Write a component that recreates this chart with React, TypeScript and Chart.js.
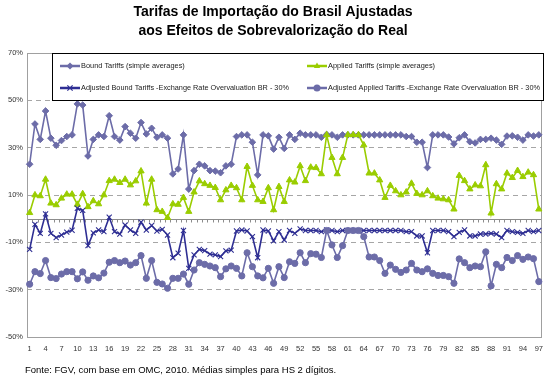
import React, { useEffect, useRef } from 'react';
import { Chart, registerables } from 'chart.js';

Chart.register(...registerables);

const titleLines = ['Tarifas de Importação do Brasil Ajustadas', 'aos Efeitos de Sobrevalorização do Real'];
const sourceNote = 'Fonte: FGV, com base em OMC, 2010. Médias simples para HS 2 dígitos.';

const categories = Array.from({ length: 97 }, (_, i) => String(i + 1));

const seriesNames = [
  'Bound Tariffs (simple averages)',
  'Applied Tariffs (simple averages)',
  'Adjusted Bound Tariffs -Exchange Rate Overvaluation BR - 30%',
  'Adjusted Applied Tariffs -Exchange Rate Overvaluation BR - 30%',
];

const boundTariffs = [
  23, 40, 33.5, 45.5, 34, 31, 33, 34.7, 35.4, 48.5,
  48, 26.5, 33.5, 35.4, 34.7, 43.5, 34.7, 33.2, 38.9, 36.1,
  34, 40.6, 35.8, 38.2, 34.4, 35.4, 34, 18.9, 21, 35.4,
  12.5, 20.3, 23, 22.3, 20.3, 20.1, 19.4, 22.3, 23, 34.7,
  35.4, 35.4, 32.3, 18.5, 35.4, 35, 29.4, 34.4, 29.7, 35.4,
  33.5, 36.1, 35.4, 35.4, 35.4, 34.4, 35.6, 35.4, 34.4, 35.4,
  35.4, 35.4, 35.4, 35.4, 35.4, 35.4, 35.4, 35.4, 35.4, 35.4,
  35.4, 34.7, 34.7, 32.3, 32.3, 21.6, 35.4, 35.4, 35.4, 34.5,
  31.6, 34.2, 35.4, 32.5, 32, 33.5, 33.5, 34, 33.2, 31.4,
  34.9, 35, 34.4, 33.2, 35.4, 34.9, 35.4,
];

const appliedTariffs = [
  2.5, 10, 9.6, 16.6, 6.5, 5.8, 8.6, 10.3, 10.3, 6,
  10.5, 5, 7.5, 6.2, 10, 16, 16.6, 15.2, 16.6, 14.2,
  15.9, 20.1, 6.5, 16.6, 3.7, 3, 0.4, 6.2, 6, 8.9,
  3, 11.2, 15.9, 14.7, 14, 13.1, 7.9, 12.1, 14, 13,
  7.9, 22, 14, 7.9, 7.2, 13, 3.7, 13.5, 7.2, 16.3,
  15.4, 22.3, 16, 21.7, 21.5, 18.9, 35.4, 25.8, 18.9, 25.8,
  35.4, 35.4, 35.4, 31.1, 19.2, 19.2, 16.3, 8.9, 14, 11.7,
  10, 11.2, 14.9, 10.6, 10, 11.7, 9.6, 8.6, 8.3, 7.9,
  4, 18.2, 16, 12.5, 14.2, 13.8, 22.7, 2.3, 14.7, 12.5,
  19.2, 17.3, 20.3, 17.7, 19.6, 18.5, 4,
];

const adjustedBound = [
  -13, -2.4, -6.2, 2, -6.2, -8, -6.9, -5.7, -4.9, 4.4,
  3.5, -11.4, -6, -4.8, -5.5, 0.6, -5.5, -6.5, -2.7, -4.8,
  -6.2, -1.5, -4.8, -2.9, -5.2, -4.5, -6.9, -16.5, -14.6, -5,
  -21, -15.3, -13, -13.5, -15, -15.3, -16, -13.6, -13.3, -5.2,
  -4.8, -5.2, -7.6, -16.5, -4.8, -5.2, -9.4, -5.5, -9, -5,
  -6.2, -4.3, -5, -5, -5, -5.5, -4.8, -5, -5.5, -5,
  -5, -5, -5, -5, -5, -5, -5, -5, -5, -5,
  -5, -5.5, -5.5, -7.3, -7.3, -14.4, -5, -5, -5, -5.5,
  -7.6, -5.8, -4.8, -7.3, -7.3, -6.5, -6.5, -6.2, -6.5, -8,
  -5, -5.5, -5.8, -6.2, -5, -5.5, -5,
];

const adjustedApplied = [
  -27.7, -22.4, -23.2, -17.7, -24.9, -25.3, -23.4, -22.4, -22.4, -25.4,
  -22.5, -26, -24.2, -25, -23, -18.4, -17.7, -18.6, -17.9, -19.6,
  -18.6, -15.6, -25.2, -17.7, -26.9, -27.6, -29.4, -25.2, -25.2, -23.4,
  -27.7, -21.7, -18.6, -19.3, -20, -20.7, -24.5, -21.2, -20, -21,
  -24.2, -14.4, -20.3, -24.2, -25, -21, -27.3, -20.3, -24.9, -18.2,
  -18.9, -14.4, -18.6, -14.8, -15, -16.4, -5, -11.1, -16.4, -11.4,
  -5, -5, -5, -7.6, -16.2, -16.2, -17.7, -23.1, -19.6, -21.4,
  -22.7, -21.7, -18.9, -21.7, -22.4, -21.2, -23.1, -24, -24, -24.5,
  -27.3, -17, -18.6, -20.7, -20, -20.3, -14, -28.4, -19.3, -20.7,
  -16.4, -17.7, -15.6, -17.2, -16.2, -16.9, -26.6,
];

const yMin = -50;
const yMax = 70;
const yStep = 20;

const COL_BOUND = '#6C6CA8';
const COL_APPLIED = '#9ACD00';
const COL_ADJ_BOUND = '#2E2E93';
const COL_ADJ_APPLIED = '#6C6CA8';
const FONT = '"Liberation Sans", Arial, sans-serif';

function drawMarker(ctx: CanvasRenderingContext2D, style: string, x: number, y: number, r: number, color: string) {
  ctx.save();
  ctx.fillStyle = color;
  ctx.strokeStyle = color;
  ctx.lineWidth = 1.2;
  ctx.beginPath();
  if (style === 'rectRot') {
    ctx.moveTo(x, y - r); ctx.lineTo(x + r, y); ctx.lineTo(x, y + r); ctx.lineTo(x - r, y); ctx.closePath(); ctx.fill();
  } else if (style === 'triangle') {
    ctx.moveTo(x, y - r); ctx.lineTo(x + r * 0.9, y + r * 0.6); ctx.lineTo(x - r * 0.9, y + r * 0.6); ctx.closePath(); ctx.fill();
  } else if (style === 'circle') {
    ctx.arc(x, y, r, 0, Math.PI * 2); ctx.fill();
  } else if (style === 'crossRot') {
    const d = r * 0.75;
    ctx.moveTo(x - d, y - d); ctx.lineTo(x + d, y + d); ctx.moveTo(x + d, y - d); ctx.lineTo(x - d, y + d); ctx.stroke();
  }
  ctx.restore();
}

const decorPlugin = {
  id: 'decor',
  beforeDatasetsDraw(chart: any) {
    const { ctx, chartArea } = chart;
    const y = chart.scales.y;
    const y0 = Math.round(y.getPixelForValue(0)) + 0.5;
    ctx.save();
    ctx.strokeStyle = '#8C8C8C';
    ctx.lineWidth = 1;
    ctx.beginPath();
    ctx.moveTo(chartArea.left, y0);
    ctx.lineTo(chartArea.right, y0);
    const n = categories.length;
    const w = (chartArea.right - chartArea.left) / n;
    for (let k = 0; k <= n; k++) {
      const x = Math.round(chartArea.left + k * w) + 0.5;
      ctx.moveTo(x, y0);
      ctx.lineTo(x, y0 + 3);
    }
    ctx.stroke();
    // frame
    ctx.strokeStyle = '#A0A0A0';
    ctx.strokeRect(Math.round(chartArea.left) + 0.5, Math.round(chartArea.top) + 0.5,
      Math.round(chartArea.right - chartArea.left), Math.round(chartArea.bottom - chartArea.top));
    ctx.restore();
  },
  afterDatasetsDraw(chart: any) {
    const { ctx } = chart;
    ctx.save();
    // legend box
    const bx = 52, by = 53, bw = 491, bh = 47;
    ctx.fillStyle = '#FFFFFF';
    ctx.fillRect(bx, by, bw, bh);
    ctx.strokeStyle = '#000000';
    ctx.lineWidth = 1;
    ctx.strokeRect(bx + 0.5, by + 0.5, bw, bh);
    const items = [
      { x: 60, y: 66, color: COL_BOUND, style: 'rectRot', text: seriesNames[0], maxW: 106 },
      { x: 307, y: 66, color: COL_APPLIED, style: 'triangle', text: seriesNames[1], maxW: 110 },
      { x: 60, y: 88, color: COL_ADJ_BOUND, style: 'crossRot', text: seriesNames[2], maxW: 208 },
      { x: 307, y: 88, color: COL_ADJ_APPLIED, style: 'circle', text: seriesNames[3], maxW: 212 },
    ];
    for (const it of items) {
      ctx.strokeStyle = it.color;
      ctx.lineWidth = 2.5;
      ctx.beginPath();
      ctx.moveTo(it.x, it.y);
      ctx.lineTo(it.x + 20, it.y);
      ctx.stroke();
      drawMarker(ctx, it.style, it.x + 10, it.y, 3.5, it.color);
      ctx.fillStyle = '#1A1A1A';
      ctx.font = `7.4px ${FONT}`;
      ctx.textAlign = 'left';
      ctx.textBaseline = 'middle';
      ctx.fillText(it.text, it.x + 21, it.y, it.maxW);
    }
    // title
    ctx.fillStyle = '#000000';
    ctx.font = `bold 14px ${FONT}`;
    ctx.textAlign = 'center';
    ctx.textBaseline = 'middle';
    ctx.fillText(titleLines[0], 273, 12, 298);
    ctx.fillText(titleLines[1], 273, 31, 288);
    // source
    ctx.font = `9.5px ${FONT}`;
    ctx.textAlign = 'left';
    ctx.fillText(sourceNote, 25, 370, 328);
    ctx.restore();
  },
};

export default function App() {
  const ref = useRef<HTMLCanvasElement | null>(null);
  useEffect(() => {
    if (!ref.current) return;
    const mk = (label: string, data: number[], color: string, style: string, radius: number, order: number) => ({
      label,
      data,
      borderColor: color,
      backgroundColor: color,
      pointBackgroundColor: color,
      pointBorderColor: color,
      pointStyle: style,
      pointRadius: radius,
      pointBorderWidth: style === 'crossRot' ? 1.1 : 1,
      borderWidth: 1.6,
      tension: 0,
      order,
    });
    const chart = new Chart(ref.current, {
      type: 'line',
      data: {
        labels: categories,
        datasets: [
          mk(seriesNames[0], boundTariffs, COL_BOUND, 'rectRot', 3.3, 3),
          mk(seriesNames[1], appliedTariffs, COL_APPLIED, 'triangle', 3.6, 2),
          mk(seriesNames[2], adjustedBound, COL_ADJ_BOUND, 'crossRot', 3.6, 1),
          mk(seriesNames[3], adjustedApplied, COL_ADJ_APPLIED, 'circle', 3.1, 0),
        ] as any,
      },
      options: {
        responsive: false,
        animation: false,
        devicePixelRatio: 1,
        layout: { padding: { left: 0, top: 53, right: 5, bottom: 22 } },
        plugins: { legend: { display: false }, title: { display: false }, tooltip: { enabled: false } },
        scales: {
          x: {
            type: 'category',
            offset: true,
            grid: { display: false, drawTicks: false },
            border: { display: false },
            ticks: {
              autoSkip: false,
              maxRotation: 0,
              minRotation: 0,
              padding: 7,
              color: '#333333',
              font: { size: 7.5, family: FONT },
              callback: (_v: any, idx: number) => (idx % 3 === 0 ? categories[idx] : ''),
            },
            afterFit: (s: any) => { s.height = 20; },
          },
          y: {
            min: yMin,
            max: yMax,
            grid: {
              drawTicks: false,
              color: (c: any) => (c.tick && (c.tick.value === yMin || c.tick.value === yMax) ? 'rgba(0,0,0,0)' : '#A6A6A6'),
              lineWidth: 1,
            },
            border: { display: false, dash: [5, 4] },
            ticks: {
              stepSize: yStep,
              padding: 4,
              color: '#333333',
              font: { size: 7.5, family: FONT },
              callback: (v: any) => `${v}%`,
            },
            afterFit: (s: any) => { s.width = 27; },
          },
        },
      } as any,
      plugins: [decorPlugin],
    });
    return () => chart.destroy();
  }, []);
  return (
    <div style={{ position: 'absolute', left: 0, top: 0, width: 550, height: 379, background: '#fff' }}>
      <canvas ref={ref} width={550} height={379} style={{ width: 550, height: 379, display: 'block' }} />
    </div>
  );
}
